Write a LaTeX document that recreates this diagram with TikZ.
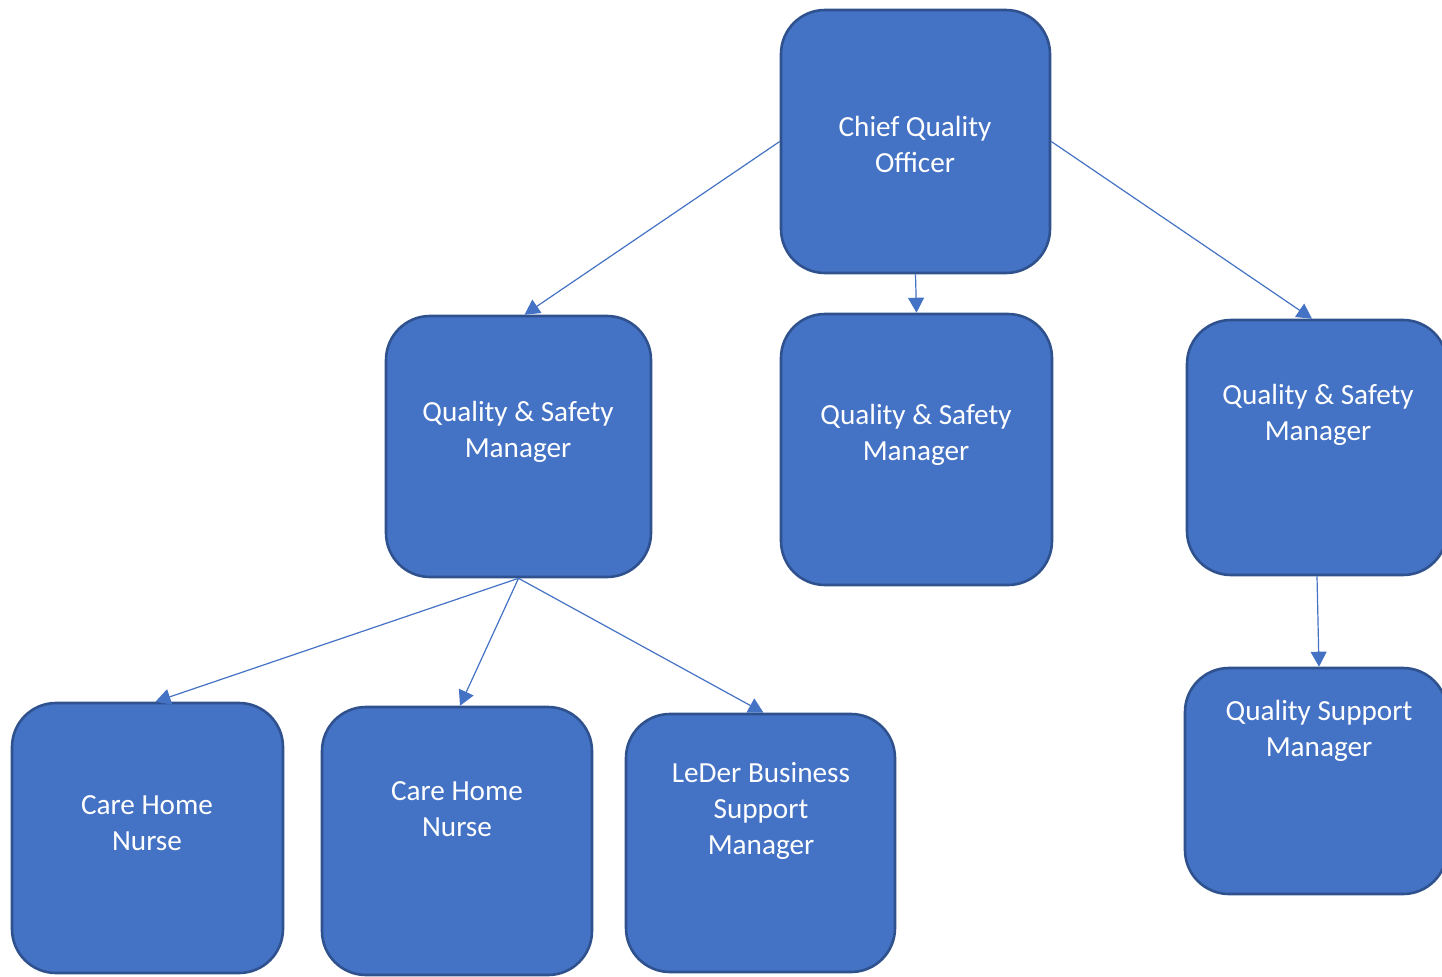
\documentclass[tikz,border=0pt]{standalone}
\usepackage{fontspec}
\setmainfont{Carlito}
\usetikzlibrary{arrows.meta}
\definecolor{boxfill}{HTML}{4472C4}
\definecolor{boxline}{HTML}{2F528F}
\begin{document}
\begin{tikzpicture}[x=0.5pt,y=-0.5pt,
  orgbox/.style={draw=boxline,fill=boxfill,line width=1.3pt,rounded corners=22pt,inner sep=0pt},
  lbl/.style={text=white,font=\fontsize{14.6pt}{18pt}\selectfont,align=center,inner sep=0pt},
  conn/.style={draw=boxfill,line width=0.6pt,-{Triangle[length=7.5pt,width=8pt]}}]
\useasboundingbox (0,0) rectangle (1442,976);
\clip (0,0) rectangle (1442,976);
% boxes
\node[orgbox,minimum width=134.5pt,minimum height=131.5pt] (cqo) at (915.5,141.5) {};
\node[orgbox,minimum width=132.5pt,minimum height=130.5pt] (qsm1) at (518.5,446.5) {};
\node[orgbox,minimum width=135.5pt,minimum height=135.5pt] (qsm2) at (916.5,449.5) {};
\node[orgbox,minimum width=130pt,minimum height=127.5pt] (qsm3) at (1317,447.5) {};
\node[orgbox,minimum width=131pt,minimum height=113pt] (qsup) at (1316,781) {};
\node[orgbox,minimum width=135.5pt,minimum height=135pt] (chn1) at (147.5,838) {};
\node[orgbox,minimum width=135pt,minimum height=134pt] (chn2) at (457,841) {};
\node[orgbox,minimum width=134.5pt,minimum height=129pt] (leder) at (760.5,843) {};
% labels
\node[lbl] (tcqo) at (915,144) {Chief Quality\\Officer};
\node[lbl] (tqsm1) at (518,431.5) {Quality \& Safety\\Manager};
\node[lbl] (tqsm2) at (916,434.5) {Quality \& Safety\\Manager};
\node[lbl] (tqsm3) at (1318,414.5) {Quality \& Safety\\Manager};
\node[lbl] (tqsup) at (1319,730.5) {Quality Support\\Manager};
\node[lbl] (tchn1) at (147,823.5) {Care Home\\Nurse};
\node[lbl] (tchn2) at (457,809.5) {Care Home\\Nurse};
\node[lbl] (tleder) at (761,810.5) {LeDer Business\\Support\\Manager};
% connectors
\draw[conn] (cqo.west) -- ([xshift=3pt]qsm1.north);
\draw[conn] (cqo.south) -- (qsm2.north);
\draw[conn] (cqo.east) -- ([xshift=-2.5pt]qsm3.north);
\draw[conn] (qsm1.south) -- ([xshift=4pt]chn1.north);
\draw[conn] (qsm1.south) -- ([xshift=1.5pt]chn2.north);
\draw[conn] (qsm1.south) -- ([xshift=1.5pt]leder.north);
\draw[conn] (qsm3.south) -- ([xshift=1.5pt]qsup.north);
\end{tikzpicture}
\end{document}
